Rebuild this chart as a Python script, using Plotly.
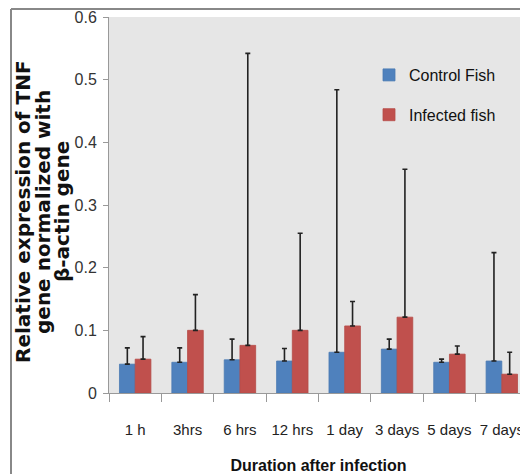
import plotly.graph_objects as go

categories = ["1 h", "3hrs", "6 hrs", "12 hrs", "1 day", "3 days", "5 days", "7 days"]
control = [0.046, 0.049, 0.053, 0.051, 0.065, 0.070, 0.049, 0.051]
control_err = [0.026, 0.023, 0.033, 0.020, 0.419, 0.016, 0.005, 0.173]
infected = [0.054, 0.100, 0.076, 0.100, 0.107, 0.121, 0.062, 0.030]
infected_err = [0.036, 0.057, 0.466, 0.155, 0.039, 0.236, 0.013, 0.035]
zeros = [0] * len(categories)
title_lines = ["Relative expression of TNF", "gene normalized with", "β-actin gene"]

# page has an 8px body margin: figure coords = page coords - 8
OFF = 8
W, H = 520, 466
L, R, T, B = 109 - OFF, 0, 17 - OFF, 474 - 393
pw, ph = W - L - R, H - T - B

def px_x(p):  # p in page pixels
    return (p - OFF - L) / pw

def px_y(p):
    return (H - B - (p - OFF)) / ph

err_style = dict(type="data", symmetric=False, color="#222222", thickness=1.6, width=2.5)

fig = go.Figure()
fig.add_bar(x=categories, y=control, name="Control Fish", legendgroup="a",
            marker=dict(color="#4F81BD", line=dict(color="#4A7AB3", width=0.8)),
            error_y=dict(array=control_err, arrayminus=zeros, **err_style))
fig.add_bar(x=categories, y=infected, name="Infected fish", legendgroup="b",
            marker=dict(color="#C0504D", line=dict(color="#B54B48", width=0.8)),
            error_y=dict(array=infected_err, arrayminus=zeros, **err_style))

annotations = []
for i, (line, xp) in enumerate(zip(title_lines, [23, 43, 62])):
    annotations.append(dict(
        text="<b>" + line + "</b>", xref="paper", yref="paper",
        x=px_x(xp), y=px_y(212), textangle=-90, showarrow=False,
        xanchor="center", yanchor="middle",
        font=dict(family="DejaVu Sans, Verdana, sans-serif", size=20, color="#111111")))

fig.update_layout(
    width=W, height=H,
    margin=dict(l=L, r=R, t=T, b=B, pad=0),
    paper_bgcolor="white",
    plot_bgcolor="#E6E6E6",
    barmode="group",
    bargap=0.4,
    bargroupgap=0,
    font=dict(family="Liberation Sans, Arial, sans-serif", size=15, color="#222222"),
    legend=dict(x=px_x(369), y=px_y(58), xanchor="left", yanchor="top",
                bgcolor="rgba(0,0,0,0)", font=dict(size=16, color="#111111"),
                itemwidth=30, tracegroupgap=16),
    showlegend=True,
    xaxis=dict(
        type="category", range=[-0.5, 7.5],
        showline=True, linecolor="#999999", linewidth=1,
        ticks="outside", tickson="boundaries", ticklen=8, tickcolor="#999999",
        showgrid=False, tickangle=0, ticklabelstandoff=23,
        tickfont=dict(size=15, color="#222222"),
        title=dict(text="<b>Duration after infection</b>",
                   font=dict(size=16, color="#111111"), standoff=22),
    ),
    yaxis=dict(
        range=[0, 0.6], tickvals=[0, 0.1, 0.2, 0.3, 0.4, 0.5, 0.6],
        ticktext=["0", "0.1", "0.2", "0.3", "0.4", "0.5", "0.6"],
        showline=True, linecolor="#999999", linewidth=1,
        ticks="outside", ticklen=5, tickcolor="#999999",
        showgrid=False, zeroline=False, ticklabelstandoff=3,
        tickfont=dict(size=16, color="#333333"),
    ),
    annotations=annotations,
    shapes=[
        dict(type="line", xref="paper", yref="paper",
             x0=px_x(11), x1=px_x(11), y0=px_y(9), y1=px_y(480),
             line=dict(color="#888888", width=2)),
        dict(type="line", xref="paper", yref="paper",
             x0=px_x(11), x1=px_x(540), y0=px_y(9), y1=px_y(9),
             line=dict(color="#888888", width=2)),
    ],
)

fig.write_html("out.html")
